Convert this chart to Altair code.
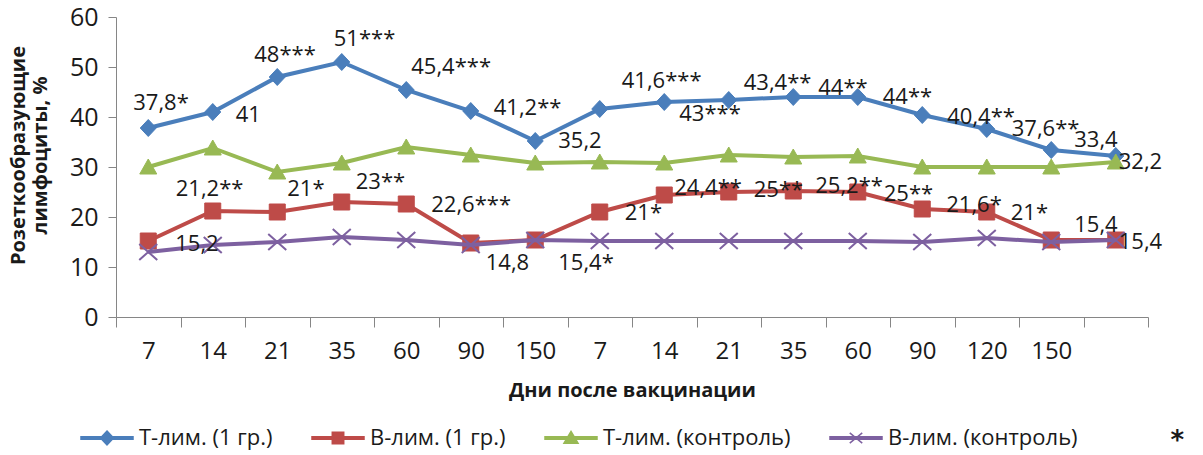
import altair as alt
import pandas as pd

# Category axis: days after vaccination (last slot has no day label)
DAY_LABELS = ["7", "14", "21", "35", "60", "90", "150",
              "7", "14", "21", "35", "60", "90", "120", "150", ""]

SERIES = ["Т-лим. (1 гр.)", "В-лим. (1 гр.)", "Т-лим. (контроль)", "В-лим. (контроль)"]
COLORS = ["#4A7EBB", "#BE4B48", "#98B954", "#7D60A0"]

T_GROUP = [37.8, 41, 48, 51, 45.4, 41.2, 35.2, 41.6, 43, 43.4, 44, 44, 40.4, 37.6, 33.4, 32.2]
T_GROUP_LABELS = ["37,8*", "41", "48***", "51***", "45,4***", "41,2**", "35,2", "41,6***",
                  "43***", "43,4**", "44**", "44**", "40,4**", "37,6**", "33,4", "32,2"]

B_GROUP = [15.2, 21.2, 21, 23, 22.6, 14.8, 15.4, 21, 24.4, 25, 25.2, 25, 21.6, 21, 15.4, 15.4]
B_GROUP_LABELS = ["15,2", "21,2**", "21*", "23**", "22,6***", "14,8", "15,4*", "21*",
                  "24,4**", "25**", "25,2**", "25**", "21,6*", "21*", "15,4", "15,4"]

T_CONTROL = [30, 33.8, 29, 30.8, 34, 32.4, 30.8, 31, 30.8, 32.4, 32, 32.2, 30, 30, 30, 31]
B_CONTROL = [13, 14.4, 15, 16, 15.4, 14.4, 15.4, 15.2, 15.2, 15.2, 15.2, 15.2, 15, 15.8, 15, 15.4]

# Label nudges (dx, dy in px) relative to each point
T_GROUP_NUDGE = [(-15, -25), (23, 3), (-23, -22), (-8, -23), (5, -23), (23, -3), (23, 0), (22, -28),
                 (15, 12), (15, -17), (25, -9), (25, 0), (25, 2), (25, 0), (23, -10), (3, 6)]
B_GROUP_NUDGE = [(27, 3), (-37, -22), (10, -23), (14, -20), (25, 1), (15, 20), (23, 23), (25, 1),
                 (10, -7), (25, -2), (22, -5), (26, 2), (24, -4), (24, 1), (23, -15), (3, 2)]

# Plot markers (unit-box SVG paths)
MARKERS = [
    "M0,-0.85L0.8,0L0,0.85L-0.8,0Z",
    "M-0.8,-0.8L0.8,-0.8L0.8,0.8L-0.8,0.8Z",
    "M0,-0.8L0.85,0.7L-0.85,0.7Z",
    "M-0.9,-0.8L0.9,0.8M-0.9,0.8L0.9,-0.8",
]
# Legend symbols: a line segment with the marker in the middle
LEG_LINE = "M-1,-0.045L1,-0.045L1,0.045L-1,0.045Z"
LEGEND_SHAPES = [
    LEG_LINE + "M0,-0.27L0.25,0L0,0.27L-0.25,0Z",
    LEG_LINE + "M-0.22,-0.22L0.22,-0.22L0.22,0.22L-0.22,0.22Z",
    LEG_LINE + "M0,-0.25L0.27,0.2L-0.27,0.2Z",
    LEG_LINE + "M-0.24,-0.2L0.24,0.2M-0.24,0.2L0.24,-0.2",
]

FONT = "Open Sans"
TEXT_COLOR = "#1a1a1a"
AXIS_COLOR = "#868686"

label_expr = "[" + ",".join("'%s'" % d for d in DAY_LABELS) + "][datum.value]"

x_enc = alt.X(
    "idx:O",
    scale=alt.Scale(type="band", paddingInner=0, paddingOuter=0),
    axis=alt.Axis(
        title="Дни после вакцинации",
        labelExpr=label_expr,
        labelAngle=0,
        labelFont=FONT, labelFontSize=24, labelColor=TEXT_COLOR, labelPadding=12,
        tickBand="extent", tickSize=10, tickColor=AXIS_COLOR,
        domainColor=AXIS_COLOR, domainWidth=1,
        titleFont=FONT, titleFontSize=20, titleFontWeight="bold", titleColor=TEXT_COLOR,
        titleBaseline="middle", titleY=73,
    ),
)
y_enc = alt.Y(
    "value:Q",
    scale=alt.Scale(domain=[0, 60], nice=False, zero=True),
    axis=alt.Axis(
        title=["Розеткообразующие", "лимфоциты, %"],
        values=[0, 10, 20, 30, 40, 50, 60],
        grid=False,
        labelFont=FONT, labelFontSize=25, labelColor=TEXT_COLOR, labelPadding=10,
        tickSize=8, tickColor=AXIS_COLOR, domainColor=AXIS_COLOR, domainWidth=1,
        titleFont=FONT, titleFontSize=20, titleFontWeight="bold", titleColor=TEXT_COLOR,
        titleAngle=-90, titleBaseline="top", titleAlign="center",
        titleX=-108, titleY=138, titleLineHeight=22,
    ),
)


def frame(values, labels=None, nudge=None):
    df = pd.DataFrame({"idx": list(range(len(values))), "value": values})
    if labels is not None:
        df["label"] = labels
        df["dx"] = [n[0] for n in nudge]
        df["dy"] = [n[1] for n in nudge]
    return df


series_data = [
    frame(T_GROUP, T_GROUP_LABELS, T_GROUP_NUDGE),
    frame(B_GROUP, B_GROUP_LABELS, B_GROUP_NUDGE),
    frame(T_CONTROL),
    frame(B_CONTROL),
]

layers = []
for i, df in enumerate(series_data):
    base = alt.Chart(df).encode(x=x_enc, y=y_enc)
    layers.append(base.mark_line(strokeWidth=4, color=COLORS[i]))
    layers.append(
        base.mark_point(filled=True, size=400, opacity=1, stroke=COLORS[i],
                        strokeWidth=2 if i == 3 else 1)
        .encode(shape=alt.value(MARKERS[i]), color=alt.value(COLORS[i]))
    )

# Value labels for the two vaccinated-group series
for i in (0, 1):
    layers.append(
        alt.Chart(series_data[i]).mark_text(
            align="left", baseline="middle", font=FONT, fontSize=22, color=TEXT_COLOR,
            dx=alt.expr("datum.dx"), dy=alt.expr("datum.dy"),
        ).encode(x=x_enc, y=y_enc, text="label:N")
    )

# Legend carrier: no marks drawn, entries come from the explicit domain
legend = alt.Legend(
    title=None, orient="none", legendX=-36, legendY=394, direction="horizontal",
    columns=4, labelFont=FONT, labelFontSize=22, labelColor=TEXT_COLOR, labelLimit=0,
    symbolSize=2704, symbolStrokeWidth=1.5, columnPadding=36, labelOffset=5, padding=0,
)
legend_layer = (
    alt.Chart(pd.DataFrame({"series": SERIES}))
    .transform_filter("false")
    .mark_point(filled=True, opacity=1, strokeWidth=1.5)
    .encode(
        color=alt.Color("series:N", scale=alt.Scale(domain=SERIES, range=COLORS), legend=legend),
        stroke=alt.Stroke("series:N", scale=alt.Scale(domain=SERIES, range=COLORS), legend=legend),
        shape=alt.Shape("series:N", scale=alt.Scale(domain=SERIES, range=LEGEND_SHAPES), legend=legend),
    )
)
layers.append(legend_layer)

chart = (
    alt.layer(*layers)
    .properties(
        width=1032, height=300,
        padding={"left": 116, "top": 17, "right": 55, "bottom": 138},
        autosize="none",
        background="white",
        title=alt.Title("*", orient="top", anchor="end", frame="group", offset=0,
                        dx=36, dy=462, fontSize=26, fontWeight="bold", font="DejaVu Sans",
                        color=TEXT_COLOR, baseline="middle"),
    )
    .configure_view(stroke=None)
)

chart.save("out.html", embed_options={"renderer": "svg", "actions": False})
